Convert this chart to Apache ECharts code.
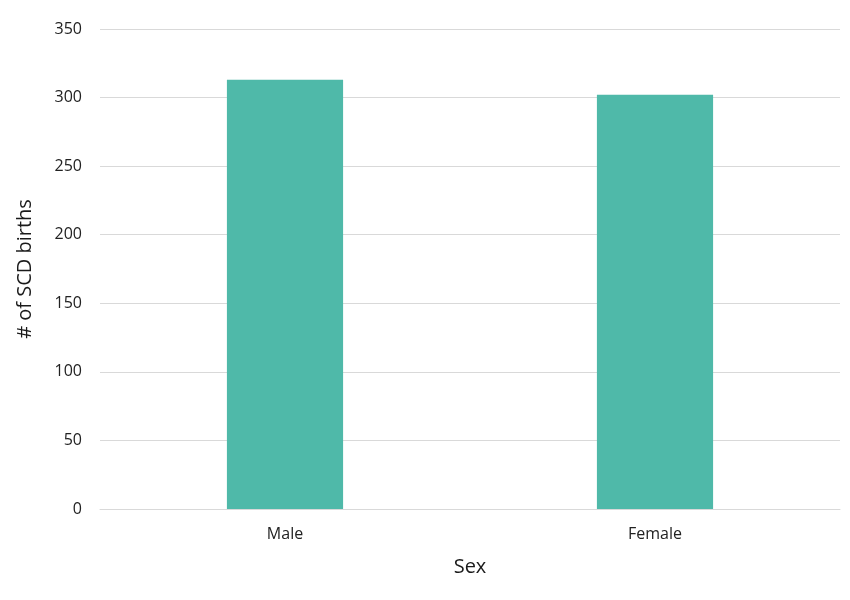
<!DOCTYPE html>
<html><head><meta charset="utf-8">
<script src="https://cdn.jsdelivr.net/npm/echarts@6/dist/echarts.min.js"></script>
<style>html,body{margin:0;padding:0;background:#fff}#c{width:850px;height:600px}</style>
</head><body><div id="c"></div>
<script>
const categories = ["Male", "Female"];
const births = [313, 302];
const yTicks = [0, 50, 100, 150, 200, 250, 300, 350];

const chart = echarts.init(document.getElementById('c'));
const font = '"Open Sans", "Liberation Sans", sans-serif';
chart.setOption({
  animation: false,
  grid: { left: 100, right: 10, top: 29, bottom: 91 },
  xAxis: {
    type: 'category', data: categories,
    name: 'Sex', nameLocation: 'middle', nameGap: 48,
    nameTextStyle: { fontSize: 20, color: '#1a1a1a', fontFamily: font },
    axisTick: { show: false },
    axisLine: { lineStyle: { color: '#d9d9d9' } },
    axisLabel: { fontSize: 16, color: '#222', fontFamily: font, margin: 17 }
  },
  yAxis: {
    type: 'value', min: yTicks[0], max: yTicks[yTicks.length - 1], interval: 50,
    name: '# of SCD births', nameLocation: 'middle', nameGap: 65,
    nameTextStyle: { fontSize: 20, color: '#1a1a1a', fontFamily: font },
    axisLine: { show: false }, axisTick: { show: false },
    axisLabel: { fontSize: 16, color: '#222', fontFamily: font, margin: 18 },
    splitLine: { lineStyle: { color: '#d9d9d9' } }
  },
  series: [{
    type: 'bar', data: births, barWidth: '31.4%',
    itemStyle: { color: '#4fb9a9' }
  }]
});
</script></body></html>
